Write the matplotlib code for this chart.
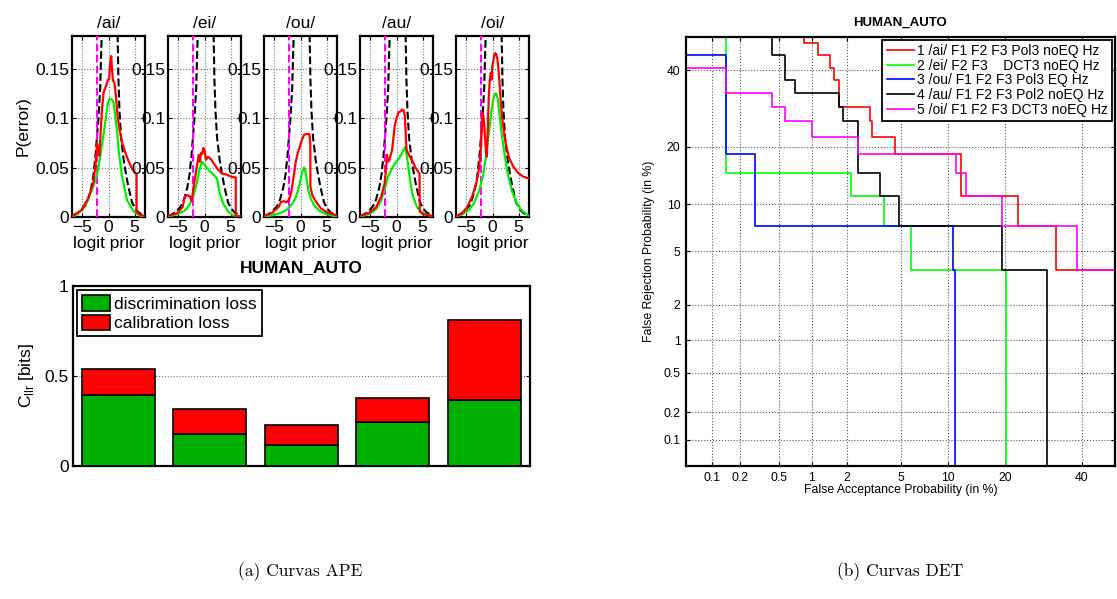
import numpy as np
import matplotlib
matplotlib.use('Agg')
import matplotlib.pyplot as plt
from statistics import NormalDist

plt.rcParams['font.family'] = ['Liberation Sans', 'DejaVu Sans']
plt.rcParams['axes.unicode_minus'] = True

vowels = ['/ai/', '/ei/', '/ou/', '/au/', '/oi/']

# operating point (logit of the effective prior)
prior_logit = -2.2

# dashed reference P(error), identical for all vowels (gap where it leaves the axes)
ref_x = [-7.0, -6.5, -5.5, -4.5, -3.9, -3.3, -2.9, -2.5, -2.2, -1.9, -1.6, -1.3, np.nan,
         1.75, 1.9, 2.1, 2.4, 2.9, 3.4, 3.8, 4.5, 5.2, 5.8, 6.5, 7.0]
ref_y = [0.001, 0.002, 0.005, 0.011, 0.018, 0.030, 0.042, 0.062, 0.082, 0.102, 0.130, 0.185, np.nan,
         0.185, 0.140, 0.108, 0.081, 0.058, 0.042, 0.031, 0.015, 0.008, 0.0045, 0.0025, 0.0015]

# actual P(error) (red) per vowel
act_x = {
    '/ai/': [-7, -5.18, -3.89, -2.92, -2.46, -2.2, -1.94, -1.75, -1.3, -0.97, -0.78, -0.58, -0.39, -0.13,
             0.13, 0.32, 0.52, 0.65, 0.84, 1.17, 1.49, 1.75, 2.14, 2.59, 3.24, 3.89, 4.54, 5.06, 5.38,
             5.38, 6.16, 7],
    '/ei/': [-7, -5.18, -4.21, -3.76, -3.24, -2.79, -2.46, -2.07, -1.56, -1.1, -0.9, -0.65, -0.45, -0.2,
             0.0, 0.26, 0.65, 1.17, 1.81, 2.59, 3.37, 4.2, 5.06, 6.0, 6.0, 7],
    '/ou/': [-7, -5.5, -4.21, -3.76, -3.24, -2.72, -2.27, -1.81, -1.3, -0.91, -0.52, -0.13, 0.26, 0.65,
             0.97, 1.69, 1.88, 1.9, 2.27, 2.92, 3.89, 5.18, 7],
    '/au/': [-7, -5.18, -3.89, -2.92, -2.27, -2.01, -1.81, -1.62, -1.36, -1.1, -0.84, -0.58, -0.32, 0.0,
             0.39, 0.78, 1.1, 1.36, 1.62, 1.81, 1.94, 2.46, 3.11, 3.76, 4.28, 4.41, 4.47, 5.18, 7],
    '/oi/': [-7, -5.83, -4.86, -3.89, -3.11, -2.59, -2.27, -2.07, -1.88, -1.69, -1.43, -1.23, -1.1, -0.91,
             -0.71, -0.52, -0.32, -0.19, -0.06, 0.13, 0.32, 0.52, 0.71, 0.91, 1.1, 1.3, 1.56, 1.81, 2.14,
             2.59, 3.24, 4.02, 4.86, 5.83, 7],
}
act_y = {
    '/ai/': [0.001, 0.007, 0.019, 0.034, 0.054, 0.075, 0.066, 0.062, 0.105, 0.125, 0.129, 0.131, 0.134,
             0.139, 0.140, 0.156, 0.163, 0.152, 0.139, 0.135, 0.119, 0.102, 0.088, 0.076, 0.065, 0.056,
             0.049, 0.045, 0.044, 0.005, 0.002, 0.001],
    '/ei/': [0.001, 0.004, 0.010, 0.021, 0.022, 0.021, 0.016, 0.031, 0.048, 0.063, 0.056, 0.065, 0.064,
             0.070, 0.068, 0.058, 0.061, 0.059, 0.054, 0.048, 0.044, 0.043, 0.041, 0.040, 0.0015, 0.0003],
    '/ou/': [0.001, 0.004, 0.010, 0.015, 0.016, 0.015, 0.017, 0.024, 0.041, 0.056, 0.065, 0.071, 0.078,
             0.083, 0.084, 0.084, 0.075, 0.031, 0.022, 0.016, 0.0088, 0.0044, 0.0017],
    '/au/': [0.001, 0.0044, 0.010, 0.021, 0.034, 0.048, 0.063, 0.056, 0.058, 0.063, 0.068, 0.081, 0.093,
             0.100, 0.106, 0.107, 0.109, 0.108, 0.102, 0.078, 0.068, 0.062, 0.056, 0.049, 0.045, 0.044,
             0.0054, 0.0027, 0.001],
    '/oi/': [0.001, 0.0037, 0.010, 0.021, 0.034, 0.049, 0.065, 0.088, 0.105, 0.100, 0.081, 0.065, 0.061,
             0.088, 0.122, 0.139, 0.146, 0.139, 0.152, 0.157, 0.163, 0.166, 0.165, 0.161, 0.152, 0.139,
             0.119, 0.102, 0.088, 0.073, 0.059, 0.051, 0.045, 0.041, 0.039],
}

# minimum (calibrated) P(error) (green) per vowel
min_x = {
    '/ai/': [-7, -5.83, -4.21, -2.92, -2.14, -1.3, -0.65, -0.13, 0.26, 0.65, 0.97, 1.3, 1.62, 1.94, 2.59,
             3.56, 4.86, 6.16, 7],
    '/ei/': [-7, -5.18, -3.89, -2.92, -2.14, -1.49, -0.97, -0.52, -0.13, 0.52, 1.3, 2.07, 2.4, 2.92, 3.56,
             4.54, 5.5, 7],
    '/ou/': [-7, -5.18, -3.89, -2.92, -2.14, -1.49, -0.97, -0.52, -0.13, 0.26, 0.65, 0.84, 1.17, 1.49,
             1.94, 2.59, 3.56, 4.86, 7],
    '/au/': [-7, -5.18, -3.89, -2.92, -2.14, -1.62, -0.97, -0.32, 0.32, 0.97, 1.69, 1.94, 2.27, 2.59,
             3.11, 3.89, 4.86, 7],
    '/oi/': [-7, -5.83, -4.54, -3.56, -2.59, -1.94, -1.3, -0.78, -0.32, 0.06, 0.45, 0.71, 1.04, 1.36,
             1.75, 2.27, 2.92, 3.76, 4.67, 5.7, 7],
}
min_y = {
    '/ai/': [0.0003, 0.003, 0.014, 0.031, 0.044, 0.071, 0.095, 0.115, 0.120, 0.119, 0.116, 0.102, 0.088,
             0.068, 0.041, 0.017, 0.0054, 0.001, 0.0003],
    '/ei/': [0.0003, 0.003, 0.006, 0.012, 0.021, 0.034, 0.048, 0.056, 0.054, 0.049, 0.045, 0.041, 0.039,
             0.024, 0.014, 0.0054, 0.0017, 0.0003],
    '/ou/': [0.0003, 0.002, 0.004, 0.0064, 0.0098, 0.014, 0.019, 0.026, 0.034, 0.044, 0.050, 0.049,
             0.039, 0.027, 0.019, 0.012, 0.0064, 0.003, 0.0003],
    '/au/': [0.0003, 0.003, 0.008, 0.017, 0.031, 0.041, 0.048, 0.054, 0.058, 0.064, 0.071, 0.063, 0.051,
             0.0375, 0.022, 0.0105, 0.0044, 0.0003],
    '/oi/': [0.0003, 0.0027, 0.007, 0.014, 0.026, 0.039, 0.059, 0.081, 0.102, 0.117, 0.125, 0.125,
             0.119, 0.103, 0.085, 0.065, 0.044, 0.026, 0.014, 0.006, 0.0014],
}

# Cllr decomposition per vowel [bits]
discrimination_loss = [0.393, 0.178, 0.115, 0.244, 0.363]
calibration_loss = [0.144, 0.139, 0.113, 0.134, 0.446]

# DET staircases: false acceptance / false rejection (in %)
det_labels = ['1 /ai/ F1 F2 F3 Pol3 noEQ Hz',
              '2 /ei/ F2 F3    DCT3 noEQ Hz',
              '3 /ou/ F1 F2 F3 Pol3 EQ Hz',
              '4 /au/ F1 F2 F3 Pol2 noEQ Hz',
              '5 /oi/ F1 F2 F3 DCT3 noEQ Hz']
det_colors = ['#ff0000', '#00ff00', '#0000ff', '#000000', '#ff00ff']
det_fa = [
    [0.85, 0.85, 1.14, 1.43, 1.56, 1.71, 3.0, 3.13, 4.56, 11.8, 22.8, 32.5, 99],
    [0.143, 0.143, 2.14, 3.85, 5.84, 20.2],
    [0.01, 0.143, 0.285, 10.68, 10.97],
    [0.427, 0.427, 0.57, 0.71, 1.71, 1.85, 2.42, 3.56, 4.84, 19.3, 30.1],
    [0.01, 0.143, 0.427, 0.57, 1.0, 2.42, 11.1, 12.6, 19.4, 38.6, 99],
]
det_fr = [
    [99, 48.1, 44.4, 40.7, 37.0, 29.6, 25.9, 22.2, 18.5, 11.1, 7.4, 3.7, 3.7],
    [99, 14.8, 11.1, 7.4, 3.7, 0.001],
    [44.4, 18.5, 7.4, 3.7, 0.001],
    [99, 44.4, 37.0, 33.3, 29.6, 25.9, 14.8, 11.1, 7.4, 3.7, 0.001],
    [40.7, 33.3, 29.6, 25.9, 22.2, 18.5, 14.8, 11.1, 7.4, 3.7, 3.7],
]
det_ticks = [0.1, 0.2, 0.5, 1, 2, 5, 10, 20, 40]
det_ticklabels = ['0.1', '0.2', '0.5', '1', '2', '5', '10', '20', '40']

_nd = NormalDist()


def probit(p):
    p = np.clip(np.asarray(p, dtype=float) / 100.0, 1e-9, 1 - 1e-9)
    return np.vectorize(_nd.inv_cdf, otypes=[float])(p)


def inv_probit(z):
    z = np.clip(np.asarray(z, dtype=float), -30, 30)
    return np.vectorize(_nd.cdf, otypes=[float])(z) * 100.0


W, H = 1117, 599
fig = plt.figure(figsize=(W / 100, H / 100), dpi=100)


def box(left, top, right, bottom):
    return [left / W, 1 - bottom / H, (right - left) / W, (bottom - top) / H]


fs = 12.5

#### APE panels
lefts = [72, 168, 264, 360, 456]
for i, v in enumerate(vowels):
    ax = fig.add_axes(box(lefts[i], 36, lefts[i] + 73, 217))
    ax.plot(ref_x, ref_y, color='k', ls='--', lw=1.5, zorder=3)
    ax.axvline(prior_logit, color='#ff00ff', ls='--', lw=1.5, zorder=3)
    ax.plot(min_x[v], min_y[v], color='#00ee00', lw=1.6, zorder=4)
    ax.plot(act_x[v], act_y[v], color='#ff0000', lw=1.6, zorder=5)
    ax.set_xlim(-7, 7)
    ax.set_ylim(0, 0.1834)
    ax.set_xticks([-5, 0, 5])
    ax.set_yticks([0, 0.05, 0.1, 0.15])
    ax.set_yticklabels(['0', '0.05', '0.1', '0.15'])
    ax.grid(True, ls=':', color='0.45', lw=0.8)
    ax.tick_params(direction='in', length=3, labelsize=fs, top=True, right=True, pad=2)
    for s in ax.spines.values():
        s.set_linewidth(1.6)
    ax.set_title(v, fontsize=fs, pad=6)
    ax.set_xlabel('logit prior', fontsize=fs, labelpad=1)
    if i == 0:
        ax.set_ylabel('P(error)', fontsize=fs, labelpad=3)
    ax.patch.set_alpha(0)

#### Cllr bars
axb = fig.add_axes(box(72.7, 285.7, 529.8, 465.7))
pos = np.arange(1, 6)
axb.bar(pos, discrimination_loss, width=0.8, color='#00b000', edgecolor='k', lw=1.2,
        label='discrimination loss', zorder=3)
axb.bar(pos, calibration_loss, width=0.8, bottom=discrimination_loss, color='#ff0000',
        edgecolor='k', lw=1.2, label='calibration loss', zorder=3)
axb.set_xlim(0.5, 5.5)
axb.set_ylim(0, 1)
axb.set_xticks([])
axb.set_yticks([0, 0.5, 1])
axb.set_yticklabels(['0', '0.5', '1'])
axb.yaxis.grid(True, ls=':', color='0.45', lw=0.8)
axb.tick_params(direction='in', length=3, labelsize=fs, right=True, pad=3)
for s in axb.spines.values():
    s.set_linewidth(1.6)
axb.set_title('HUMAN_AUTO', fontsize=fs, fontweight='bold', pad=10)
axb.set_ylabel(r'C$_{\mathregular{llr}}$ [bits]', fontsize=fs, labelpad=6)
leg = axb.legend(loc='upper left', fontsize=fs, handlelength=1.6, handleheight=1.0,
                 handletextpad=0.25, labelspacing=0.15, borderaxespad=0.25, borderpad=0.3,
                 fancybox=False, framealpha=1, edgecolor='k')
leg.get_frame().set_linewidth(1.3)

#### DET plot
axd = fig.add_axes(box(686, 37, 1115, 466))
axd.set_xscale('function', functions=(probit, inv_probit))
axd.set_yscale('function', functions=(probit, inv_probit))
for fa, fr, c, lab in zip(det_fa, det_fr, det_colors, det_labels):
    axd.plot(fa, fr, color=c, lw=1.2, drawstyle='steps-post', label=lab)
axd.set_xlim(0.05, 50)
axd.set_ylim(0.05, 50)
axd.set_xticks(det_ticks)
axd.set_xticklabels(det_ticklabels)
axd.set_yticks(det_ticks)
axd.set_yticklabels(det_ticklabels)
axd.minorticks_off()
axd.grid(True, ls=':', color='0.35', lw=0.8)
axd.tick_params(direction='in', length=3, labelsize=8.7, top=True, right=True, pad=4)
for s in axd.spines.values():
    s.set_linewidth(1.6)
axd.set_title('HUMAN_AUTO', fontsize=9.5, fontweight='bold', pad=8)
axd.set_xlabel('False Acceptance Probability (in %)', fontsize=8.8, labelpad=0)
axd.set_ylabel('False Rejection Probability (in %)', fontsize=8.8, labelpad=6)
leg2 = axd.legend(loc='upper right', fontsize=10, handlelength=2.0, handletextpad=0.2,
                  labelspacing=0.05, borderaxespad=0.2, borderpad=0.3,
                  fancybox=False, framealpha=1, edgecolor='k')
leg2.get_frame().set_linewidth(1.3)

#### sub-captions
fig.text(300 / W, 1 - 572 / H, '(a) Curvas APE', fontfamily='cmr10', fontsize=12.5,
         ha='center', va='center')
fig.text(900 / W, 1 - 572 / H, '(b) Curvas DET', fontfamily='cmr10', fontsize=12.5,
         ha='center', va='center')

fig.savefig('out.png', dpi=100)
